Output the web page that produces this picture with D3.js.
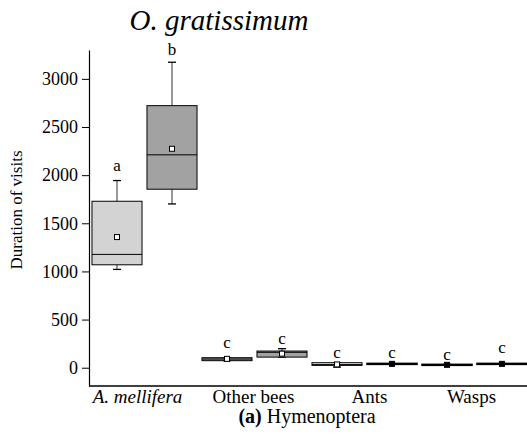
<!DOCTYPE html>
<html>
<head>
<meta charset="utf-8">
<script src="https://cdn.jsdelivr.net/npm/d3@7"></script>
</head>
<body style="margin:0;background:#fff">
<svg id="chart" width="527" height="442" style="display:block"></svg>
<script>
// ---- data ----
const categories = ["A. mellifera", "Other bees", "Ants", "Wasps"];
const boxIds = ["am1", "am2", "ob1", "ob2", "an1", "an2", "wa1", "wa2"];
const whiskerLow  = [1021, 1701,  73, 110,  6, 35, 25, 35];
const q1          = [1069, 1854,  73, 110, 24, 35, 25, 35];
const median      = [1177, 2211,  90, 160, 34, 40, 30, 40];
const q3          = [1729, 2722, 104, 173, 52, 45, 35, 45];
const whiskerHigh = [1944, 3173, 104, 198, 52, 45, 35, 45];
const means       = [1357, 2274,  92, 146, 34, 40, 30, 40];
const letters     = ["a", "b", "c", "c", "c", "c", "c", "c"];
const letterAt    = [2045, 3253, 206, 243, 97, 97, 76, 149];
const yTicks      = [0, 500, 1000, 1500, 2000, 2500, 3000];
const fills       = ["#d3d3d3", "#a2a2a2", "#a2a2a2", "#a2a2a2", "#ffffff", "#000000", "#000000", "#000000"];

// ---- layout ----
(function () {
const FONT = "Liberation Serif";
const svg = d3.select("#chart");
const mLeft = 89, mRight = 529, mTop = 50, mBottom = 386;

const x = d3.scaleBand().domain(boxIds).range([mLeft + 0.5, mRight + 0.5])
  .paddingInner(0.09).paddingOuter(0.045);
const y = d3.scaleLinear().domain([-190, 3300]).range([mBottom, mTop]);

// axes
const yAxis = d3.axisLeft(y).tickValues(yTicks).tickFormat(d3.format("d"))
  .tickSize(7).tickPadding(4).tickSizeOuter(0);
const gy = svg.append("g").attr("transform", `translate(${mLeft},0)`).call(yAxis);
gy.select(".domain").attr("stroke", "#000").attr("stroke-width", 1.2);
gy.selectAll(".tick line").attr("stroke", "#000");
gy.selectAll(".tick text").style("font-family", FONT).style("font-size", "18px").style("fill", "#000");

svg.append("line").attr("x1", mLeft).attr("x2", 527).attr("y1", mBottom).attr("y2", mBottom)
  .attr("stroke", "#000").attr("stroke-width", 1.4);

// boxes
const bw = x.bandwidth();
const data = boxIds.map((id, i) => ({ id, i }));
const g = svg.append("g");

data.forEach(d => {
  const i = d.i;
  const cx = x(d.id) + bw / 2;
  g.append("line").attr("x1", cx).attr("x2", cx).attr("y1", y(whiskerHigh[i])).attr("y2", y(q3[i]))
    .attr("stroke", "#333").attr("stroke-width", 1);
  g.append("line").attr("x1", cx).attr("x2", cx).attr("y1", y(whiskerLow[i])).attr("y2", y(q1[i]))
    .attr("stroke", "#333").attr("stroke-width", 1);
  g.append("line").attr("x1", cx - 4).attr("x2", cx + 4).attr("y1", y(whiskerHigh[i])).attr("y2", y(whiskerHigh[i]))
    .attr("stroke", "#000").attr("stroke-width", 1.3);
  g.append("line").attr("x1", cx - 4).attr("x2", cx + 4).attr("y1", y(whiskerLow[i])).attr("y2", y(whiskerLow[i]))
    .attr("stroke", "#000").attr("stroke-width", 1.3);
  const h = Math.max(1, y(q1[i]) - y(q3[i]));
  g.append("rect").attr("x", x(d.id)).attr("y", y(q3[i])).attr("width", bw).attr("height", h)
    .attr("fill", fills[i]).attr("stroke", "#000").attr("stroke-width", fills[i] === "#000000" ? 1.5 : 1);
  g.append("line").attr("x1", x(d.id)).attr("x2", x(d.id) + bw).attr("y1", y(median[i])).attr("y2", y(median[i]))
    .attr("stroke", "#000").attr("stroke-width", 1);
  const dark = fills[i] === "#000000";
  g.append("rect").attr("x", cx - 2.5).attr("y", y(means[i]) - 2.5).attr("width", 5).attr("height", 5)
    .attr("fill", dark ? "#000" : "#fff").attr("stroke", "#000").attr("stroke-width", 1);
  g.append("text").attr("x", cx).attr("y", y(letterAt[i])).attr("text-anchor", "middle")
    .style("font-family", FONT).style("font-size", "17px").text(letters[i]);
});

// category labels
const labelOffset = [-7, -1, 5, -3];
categories.forEach((c, k) => {
  const cx = (x(boxIds[2 * k]) + x(boxIds[2 * k + 1]) + bw) / 2 + labelOffset[k];
  svg.append("text").attr("x", cx).attr("y", 403).attr("text-anchor", "middle")
    .style("font-family", FONT).style("font-size", "19px")
    .style("font-style", k === 0 ? "italic" : "normal").text(c);
});

// y label
svg.append("text").attr("transform", "translate(22,210) rotate(-90)").attr("text-anchor", "middle")
  .style("font-family", FONT).style("font-size", "17px").text("Duration of visits");

// title
svg.append("text").attr("x", 219).attr("y", 30).attr("text-anchor", "middle")
  .style("font-family", FONT).style("font-size", "29px").style("font-style", "italic").text("O. gratissimum");

// caption
const cap = svg.append("text").attr("x", 307).attr("y", 423).attr("text-anchor", "middle")
  .style("font-family", FONT).style("font-size", "20px");
cap.append("tspan").style("font-weight", "bold").text("(a)");
cap.append("tspan").text(" Hymenoptera");
})();
</script>
</body>
</html>
